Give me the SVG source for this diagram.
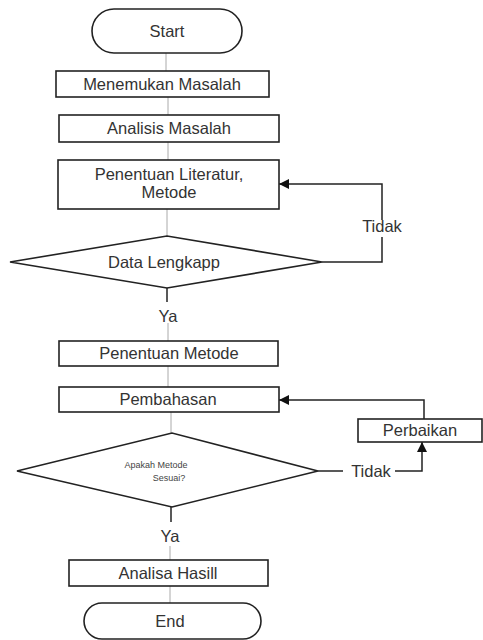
<svg xmlns="http://www.w3.org/2000/svg" width="483" height="640" viewBox="0 0 483 640">
<defs>
<style>
.box{fill:#fff;stroke:#222;stroke-width:1.6}
.t{font-family:"Liberation Sans",Arial,sans-serif;font-size:16.5px;fill:#333;text-anchor:middle}
.s{font-family:"Liberation Sans",Arial,sans-serif;font-size:9px;fill:#444;text-anchor:middle}
.g{stroke:#aaa;stroke-width:1;fill:none}
.k{stroke:#222;stroke-width:1.5;fill:none}
</style>
<marker id="ah" viewBox="0 0 10 10" refX="10" refY="5" markerWidth="10" markerHeight="10" markerUnits="userSpaceOnUse" orient="auto">
<path d="M0,0 L10,5 L0,10 z" fill="#111"/>
</marker>
</defs>
<rect width="483" height="640" fill="#fff"/>
<g id="connectors">
<line class="g" x1="166" y1="53" x2="166" y2="71"/>
<line class="g" x1="168" y1="97" x2="168" y2="115"/>
<line class="g" x1="168" y1="142" x2="168" y2="160"/>
<line class="g" x1="167" y1="209" x2="167" y2="236"/>
<line class="k" x1="167" y1="288" x2="167" y2="302"/>
<line class="g" x1="168" y1="323" x2="168" y2="341"/>
<line class="g" x1="168" y1="366" x2="168" y2="387"/>
<line class="g" x1="171" y1="412" x2="171" y2="433"/>
<line class="k" x1="171" y1="507" x2="171" y2="522"/>
<line class="g" x1="170" y1="546" x2="170" y2="560"/>
<line class="g" x1="170" y1="586" x2="170" y2="603"/>
<polyline class="k" points="382,220 382,184 279,184" marker-end="url(#ah)"/>
<polyline class="k" points="322,262 382,262 382,237"/>
<line class="k" x1="318" y1="471" x2="343" y2="471"/>
<polyline class="k" points="395,471 422,471 422,442" marker-end="url(#ah)"/>
<polyline class="k" points="424,419 424,400 279,400" marker-end="url(#ah)"/>
<text class="t" x="382" y="232">Tidak</text>
<text class="t" x="168" y="322">Ya</text>
<text class="t" x="371" y="477">Tidak</text>
<text class="t" x="170" y="542">Ya</text>
</g>
<g id="start">
<rect class="box" x="92" y="9" width="150" height="44" rx="22"/>
<text class="t" x="167" y="37">Start</text>
</g>
<g id="menemukan">
<rect class="box" x="56" y="71" width="213" height="26"/>
<text class="t" x="162" y="90">Menemukan Masalah</text>
</g>
<g id="analisis">
<rect class="box" x="59" y="115" width="220" height="27"/>
<text class="t" x="169" y="134">Analisis Masalah</text>
</g>
<g id="literatur">
<rect class="box" x="58" y="160" width="221" height="49"/>
<text class="t" x="169" y="180">Penentuan Literatur,</text>
<text class="t" x="169" y="198">Metode</text>
</g>
<g id="data-lengkap">
<polygon class="box" points="10,262 167,236 322,262 167,288"/>
<text class="t" x="164" y="268">Data Lengkapp</text>
</g>
<g id="penentuan-metode">
<rect class="box" x="59" y="341" width="219" height="25"/>
<text class="t" x="169" y="359">Penentuan Metode</text>
</g>
<g id="pembahasan">
<rect class="box" x="59" y="387" width="220" height="25"/>
<text class="t" x="168" y="405">Pembahasan</text>
</g>
<g id="perbaikan">
<rect class="box" x="358" y="419" width="124" height="23"/>
<text class="t" x="420" y="436">Perbaikan</text>
</g>
<g id="apakah-metode">
<polygon class="box" points="17,471 172,433 318,471 172,507"/>
<text class="s" x="156" y="468">Apakah Metode</text>
<text class="s" x="169" y="481">Sesuai?</text>
</g>
<g id="analisa-hasil">
<rect class="box" x="69" y="560" width="199" height="26"/>
<text class="t" x="168" y="579">Analisa Hasill</text>
</g>
<g id="end">
<rect class="box" x="84" y="603" width="177" height="36" rx="18"/>
<text class="t" x="170" y="627">End</text>
</g>
</svg>
